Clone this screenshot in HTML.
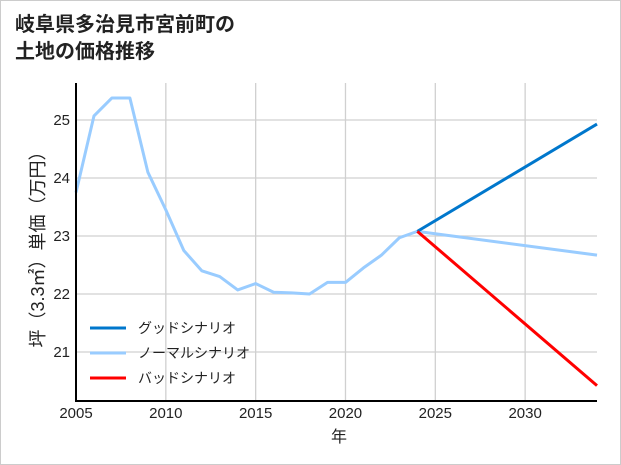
<!DOCTYPE html>
<html><head><meta charset="utf-8"><style>
html,body{margin:0;padding:0;background:#fff}
#wrap{position:relative;width:619px;height:463px;border:1px solid #ccc;overflow:hidden}
svg{position:absolute;left:0;top:0}
text{font-family:"Liberation Sans","Noto Sans CJK JP",sans-serif;fill:#222}
</style></head><body>
<div id="wrap">
<svg id="chart" width="621" height="465">
<text x="14" y="30" font-size="20" font-weight="bold">岐阜県多治見市宮前町の</text>
<text x="14" y="57" font-size="20" font-weight="bold">土地の価格推移</text>
<g id="grid"></g><g id="series"></g><g id="axes"></g>
<text x="338" y="441" font-size="16" text-anchor="middle">年</text>
<text transform="translate(43,244) rotate(-90)" font-size="18" text-anchor="middle">坪（3.3㎡）単価（万円）</text>
<g id="legend"></g>
</svg></div>
<script>
const years=[2005,2006,2007,2008,2009,2010,2011,2012,2013,2014,2015,2016,2017,2018,2019,2020,2021,2022,2023,2024];
const normalHist=[23.75,25.07,25.38,25.38,24.1,23.45,22.75,22.4,22.3,22.07,22.18,22.03,22.02,22.0,22.2,22.2,22.45,22.67,22.97,23.08];
const projYears=[2024,2034];
const goodProj=[23.08,24.93];
const normalProj=[23.08,22.67];
const badProj=[23.08,20.42];
const xTicks=[2005,2010,2015,2020,2025,2030];
const yTicks=[21,22,23,24,25];
const NS='http://www.w3.org/2000/svg';
const X0=75,X1=596,Y0=82,Y1=400;
const xs=y=>X0+(y-2005)*(X1-X0)/(2034-2005);
const ys=v=>119+(25-v)*58;
function mk(tag,attrs,parent){const e=document.createElementNS(NS,tag);for(const k in attrs)e.setAttribute(k,attrs[k]);document.getElementById(parent).appendChild(e);return e;}
xTicks.forEach(t=>{
 const l=mk('line',{x1:xs(t),x2:xs(t),y1:Y0,y2:Y1,stroke:'#d0d0d0','stroke-width':1.3},'grid');
 
 
 const tx=mk('text',{x:xs(t),y:Y1+17,'font-size':15,'text-anchor':'middle'},'axes');
 tx.textContent=t;
 
 
});
yTicks.forEach(t=>{
 const l=mk('line',{x1:X0,x2:X1,y1:ys(t),y2:ys(t),stroke:'#d0d0d0','stroke-width':1.3},'grid');
 
 
 const tx=mk('text',{x:X0-6,y:ys(t)+5,'font-size':15,'text-anchor':'end'},'axes');
 tx.textContent=t;
 
 
});
const ax=mk('path',{d:`M${X0},${Y0}V${Y1}H${X1}`,fill:'none',stroke:'#000','stroke-width':2},'axes');


function line(xa,va,color,name){
 const p=mk('polyline',{points:xa.map((y,i)=>xs(y)+','+ys(va[i])).join(' '),fill:'none',stroke:color,'stroke-width':3,'stroke-linejoin':'round'},'series');
 
 
}
line(years,normalHist,'#99ccff','normal-history-line');
line(projYears,normalProj,'#99ccff','normal-scenario-line');
line(projYears,goodProj,'#0077cc','good-scenario-line');
line(projYears,badProj,'#ff0000','bad-scenario-line');
[['グッドシナリオ','#0077cc','legend-good'],['ノーマルシナリオ','#99ccff','legend-normal'],['バッドシナリオ','#ff0000','legend-bad']].forEach((d,i)=>{
 const y=327+i*25;
 const l=mk('line',{x1:89,x2:125,y1:y,y2:y,stroke:d[1],'stroke-width':3},'legend');
 
 
 const t=mk('text',{x:137,y:y+5,'font-size':14},'legend');
 t.textContent=d[0];
 
 
});
</script>
</body></html>
